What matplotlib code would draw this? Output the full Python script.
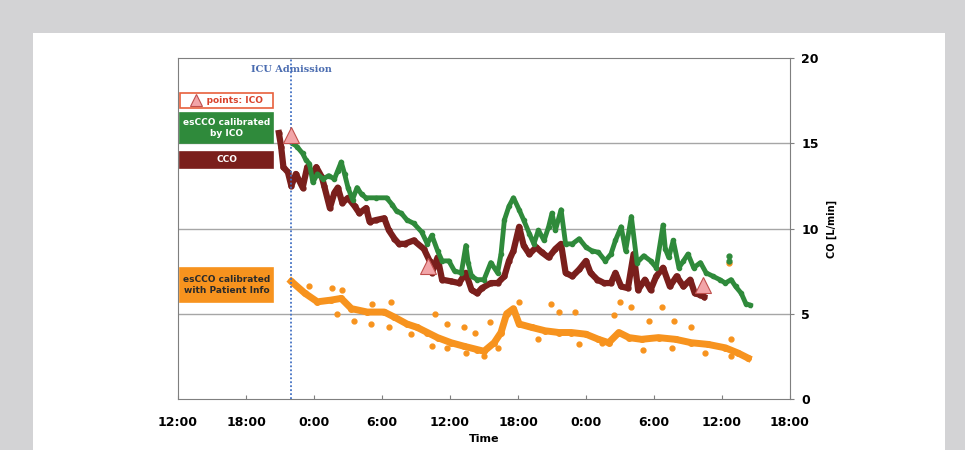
import matplotlib.pyplot as plt
from matplotlib.patches import Rectangle

# hours since 12:00 on day 1
tick_hours = [0, 6, 12, 18, 24, 30, 36, 42, 48, 54]
tick_labels = ["12:00", "18:00", "0:00", "6:00", "12:00", "18:00", "0:00", "6:00", "12:00", "18:00"]
icu_admission = 10.0

cco_h = [8.9, 9.1, 9.3, 9.7, 10.0, 10.4, 11.0, 11.4, 11.9, 12.2, 12.7, 12.9, 13.4, 13.8, 14.1,
         14.5, 15.0, 15.6, 16.0, 16.6, 16.9, 17.5, 18.2, 18.6, 19.1, 19.5, 20.0, 20.8, 21.7, 22.2,
         22.4, 22.9, 23.3, 24.1, 24.8, 25.4, 25.9, 26.4, 26.8, 27.6, 28.2, 28.8, 29.2, 29.6, 30.1,
         30.5, 31.0, 31.6, 32.1, 32.7, 33.3, 33.8, 34.2, 34.8, 35.4, 36.0, 36.4, 37.0, 37.6, 38.2,
         38.6, 39.1, 39.7, 40.2, 40.6, 41.2, 41.7, 42.2, 42.8, 43.4, 44.0, 44.6, 45.2, 45.6, 46.1, 46.4]
cco = [15.6, 14.8, 13.6, 13.3, 12.5, 13.2, 12.4, 13.6, 13.2, 13.6, 13.0, 12.5, 11.2, 12.1, 12.4,
       11.5, 11.8, 11.3, 10.9, 11.2, 10.4, 10.5, 10.6, 9.9, 9.4, 9.1, 9.1, 9.3, 8.8, 8.1,
       7.4, 8.3, 7.0, 6.9, 6.8, 7.4, 6.4, 6.2, 6.5, 6.8, 6.8, 7.2, 8.1, 8.7, 10.1,
       9.0, 8.5, 8.9, 8.6, 8.3, 8.8, 9.1, 7.4, 7.2, 7.6, 8.1, 7.4, 7.0, 6.8, 6.8,
       7.4, 6.6, 6.5, 8.5, 6.4, 7.0, 6.4, 7.2, 7.7, 6.6, 7.2, 6.6, 7.0, 6.2, 6.1, 6.0]

ico_cal_h = [10.1, 10.5, 11.0, 11.3, 11.6, 11.9, 12.3, 12.8, 13.3, 13.8, 14.1, 14.4, 14.7, 15.0,
             15.4, 15.8, 16.2, 16.6, 17.5, 18.4, 18.9, 19.3, 19.7, 20.2, 20.8, 21.5, 22.0, 22.4,
             22.9, 23.3, 23.9, 24.4, 25.0, 25.4, 25.6, 25.9, 26.4, 27.0, 27.6, 28.2, 28.5, 28.8,
             29.2, 29.6, 30.1, 30.5, 31.0, 31.4, 31.8, 32.3, 32.7, 33.0, 33.3, 33.8, 34.2, 34.8,
             35.4, 36.0, 36.5, 37.1, 37.7, 38.2, 38.6, 39.1, 39.5, 40.0, 40.5, 41.1, 41.7, 42.2,
             42.8, 43.0, 43.3, 43.7, 44.2, 44.6, 45.0, 45.5, 46.1, 46.6, 47.2, 47.8, 48.3, 48.8,
             49.2, 49.7, 50.1, 50.5]
ico_cal = [15.0, 14.8, 14.4, 14.0, 13.8, 12.7, 13.2, 12.9, 13.1, 12.9, 13.4, 13.9, 13.2, 12.4,
           11.7, 12.4, 12.0, 11.8, 11.8, 11.8, 11.4, 11.0, 10.9, 10.5, 10.3, 9.8, 9.1, 9.6,
           8.7, 8.1, 8.1, 7.5, 7.4, 9.0, 8.0, 7.2, 7.0, 7.0, 8.0, 7.4, 8.5, 10.5,
           11.3, 11.8, 11.1, 10.5, 9.7, 9.1, 9.9, 9.3, 10.1, 10.9, 9.9, 11.1, 9.1, 9.1,
           9.4, 8.9, 8.7, 8.6, 8.1, 8.5, 9.3, 10.1, 8.7, 10.7, 8.0, 8.4, 8.1, 7.7,
           10.2, 8.8, 8.3, 9.3, 7.7, 8.1, 8.5, 7.7, 8.0, 7.4, 7.2, 7.0, 6.8, 7.0,
           6.6, 6.2, 5.6, 5.5]
ico_cal_extra_h = [48.6, 48.6]
ico_cal_extra = [8.4, 8.1]

patient_h = [10.0, 11.2, 12.3, 13.5, 14.4, 15.3, 16.7, 18.2, 19.1, 20.2, 21.1, 22.0, 22.9, 24.1,
             25.2, 26.4, 27.0, 27.9, 28.5, 29.0, 29.6, 30.1, 31.2, 32.4, 33.6, 34.7, 36.0, 37.1,
             38.0, 38.9, 39.8, 40.9, 42.4, 43.9, 45.3, 46.8, 48.3, 49.4, 50.3]
patient = [6.9, 6.2, 5.7, 5.8, 5.9, 5.3, 5.1, 5.1, 4.8, 4.4, 4.2, 3.9, 3.6, 3.3,
           3.1, 2.9, 2.8, 3.3, 3.9, 5.0, 5.3, 4.4, 4.2, 4.0, 3.9, 3.9, 3.8, 3.5,
           3.3, 3.9, 3.6, 3.5, 3.6, 3.5, 3.3, 3.2, 3.0, 2.7, 2.4]
patient_scatter_h = [11.6, 13.6, 14.5, 17.1, 18.8, 22.7, 23.7, 25.2, 26.2, 27.5,
                     14.0, 15.5, 17.0, 18.6, 20.6, 22.4, 23.7, 25.4, 27.0, 28.2,
                     30.1, 32.9, 33.6, 35.0, 39.0, 40.0, 42.7, 38.5, 41.6, 43.8, 45.3, 48.8,
                     31.8, 35.4, 37.4, 41.0, 43.6, 46.5, 48.8, 48.6]
patient_scatter = [6.6, 6.5, 6.4, 5.6, 5.7, 5.0, 4.4, 4.2, 3.9, 4.5,
                   5.0, 4.6, 4.4, 4.2, 3.8, 3.1, 3.0, 2.7, 2.5, 3.0,
                   5.7, 5.6, 5.1, 5.1, 5.7, 5.4, 5.4, 4.9, 4.6, 4.6, 4.2, 3.5,
                   3.5, 3.2, 3.3, 2.9, 3.0, 2.7, 2.5, 8.0]

ico_points_h = [10.0, 22.1, 46.3]
ico_points = [15.5, 7.8, 6.7]

green = "#2f8a3b"
darkred = "#7a1f1c"
orange = "#f7931e"

fig = plt.figure(figsize=(9.65, 4.5), dpi=100)
fig.patch.set_facecolor("#d3d3d5")
fig.add_artist(Rectangle((33 / 965, 0), 912 / 965, 417 / 450, transform=fig.transFigure,
                         facecolor="white", edgecolor="none", zorder=0))

ax = fig.add_axes([178 / 965, 51 / 450, 612 / 965, 341 / 450])
ax.set_xlim(0, 54)
ax.set_ylim(0, 20)

for y in [5, 10, 15]:
    ax.axhline(y, color="#a6a6a6", lw=1, zorder=1)

ax.plot(patient_h, patient, color=orange, lw=5, marker="o", ms=4, zorder=2)
ax.plot(patient_scatter_h, patient_scatter, "o", color=orange, ms=3.5, zorder=2)
ax.plot(cco_h, cco, color=darkred, lw=4.5, marker="o", ms=3.5, zorder=3)
ax.plot(ico_cal_h, ico_cal, color=green, lw=3.5, marker="o", ms=3, zorder=4)
ax.plot(ico_cal_extra_h, ico_cal_extra, "o", color=green, ms=3.5, zorder=4)

ax.axvline(icu_admission, color="#4472c4", lw=1.3, ls=(0, (1, 1.2)), zorder=5)
ax.text(icu_admission, 19.3, "ICU Admission", color="#4a6cb0", fontsize=7,
        fontweight="bold", family="DejaVu Serif", ha="center", va="center")

ax.plot(ico_points_h, ico_points, "^", ms=11, color="#f2a5a8", mec="#c0504d", mew=0.8, zorder=6)

# legend boxes
def box(y0, y1, face, edge, text, tcolor):
    ax.add_patch(Rectangle((0.004, y0), 0.152, y1 - y0, transform=ax.transAxes,
                           facecolor=face, edgecolor=edge, lw=1.2, zorder=7))
    ax.text(0.08, (y0 + y1) / 2, text, transform=ax.transAxes, ha="center", va="center",
            fontsize=6.5, fontweight="bold", color=tcolor, zorder=8, linespacing=1.3)

box(0.852, 0.898, "white", "#e8603c", "     points: ICO", "#d9422b")
ax.plot(0.03, 0.878, "^", ms=9, color="#f2a5a8", mec="#c0504d", mew=0.8,
        transform=ax.transAxes, zorder=9, clip_on=False)
box(0.752, 0.838, green, green, "esCCO calibrated\nby ICO", "white")
box(0.678, 0.724, darkred, darkred, "CCO", "white")
box(0.285, 0.383, orange, orange, "esCCO calibrated\nwith Patient Info", "#2b2b2b")

ax.set_xticks(tick_hours)
ax.set_xticklabels(tick_labels, fontsize=9, fontweight="bold")
ax.set_yticks([0, 5, 10, 15, 20])
ax.yaxis.tick_right()
ax.yaxis.set_label_position("right")
ax.tick_params(axis="x", direction="in", length=3, color="#7f7f7f", pad=12)
ax.tick_params(axis="y", direction="out", length=3, color="#7f7f7f", labelsize=9, pad=5)
for lab in ax.get_yticklabels():
    lab.set_fontweight("bold")
ax.set_xlabel("Time", fontsize=8, fontweight="bold", labelpad=4)
ax.set_ylabel("CO [L/min]", fontsize=7, fontweight="bold", labelpad=6)
for s in ax.spines.values():
    s.set_color("#7f7f7f")

plt.savefig("out.png", dpi=100, facecolor=fig.get_facecolor())
